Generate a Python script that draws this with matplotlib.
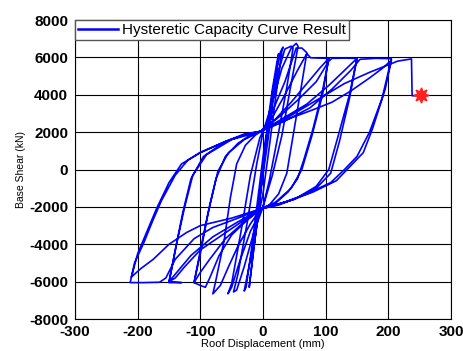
import matplotlib.pyplot as plt

# loading history, one list per displacement level (mm, kN)
c1_x = [0, 6, 12, 16, 10, 2, -4, -10, -14, -8, -2, 3]
c1_y = [0, 1600, 3300, 4300, 2600, 500, -1200, -3000, -4000, -2600, -600, 900]
c2_x = [8, 15, 22, 25, 18, 8, 0, -8, -16, -22, -16, -8, 0, 8]
c2_y = [2600, 4300, 5700, 6200, 4200, 1600, -300, -2300, -4600, -6300, -4600, -2200, 200, 2200]
c3_x = [18, 28, 32, 30, 20, 10, 0, -10, -20, -30, -27, -18, -8, 2, 12]
c3_y = [4700, 6300, 6550, 6300, 3800, 1200, -1300, -2900, -4800, -6500, -6300, -4200, -1500, 1200, 3200]
c4_x = [25, 35, 45, 48, 38, 25, 10, 0, -15, -30, -42, -47, -40, -25, -10, 0, 15, 30]
c4_y = [5300, 6450, 6600, 6500, 4400, 2000, -600, -2000, -3400, -5200, -6450, -6550, -5600, -2800, 300, 2000, 3600, 5400]
c5_x = [45, 53, 56, 45, 30, 15, 0, -20, -38, -50, -56, -50, -35, -20, -5, 10, 35, 53]
c5_y = [6500, 6750, 6600, 4600, 1800, -300, -2000, -3300, -5000, -6300, -6650, -6100, -3300, -300, 1700, 2700, 4700, 6500]
c6_x = [62, 70, 60, 48, 38, 25, 10, -3, -20, -40, -55, -68, -80, -75, -62, -52, -42, -28, -12, -3,
        15, 35, 55, 70]
c6_y = [6500, 6250, 4200, 1800, -200, -1300, -1900, -2100, -2900, -4100, -5200, -6200, -6650, -5900,
        -3800, -1500, 300, 1300, 1850, 2050, 2800, 4000, 5300, 6200]
c7_x = [76, 90, 105, 95, 80, 65, 55, 40, 20, -3, -25, -50, -70, -85, -92, -100, -110, -100, -88, -75,
        -60, -40, -20, -3, 20, 45, 70, 90, 105, 95, 78, 62, 45, 20, -3, -30, -60, -85, -100, -110,
        -98, -85, -72, -55, -30, -3]
c7_y = [5980, 5960, 5950, 4200, 2200, 500, -500, -1200, -1800, -2100, -2700, -3500, -4600, -5800,
        -6300, -6200, -6050, -4500, -2400, -500, 700, 1400, 1850, 2050, 2700, 3600, 4600, 5400, 5950,
        4000, 1800, 0, -1000, -1750, -2100, -2800, -3700, -4800, -5500, -6050, -4000, -1900, -100,
        900, 1600, 2050]
c8_x = [25, 55, 85, 105, 110, 130, 150, 138, 120, 105, 85, 55, 25, -3, -30, -65, -100, -125, -140,
        -150, -130, -150, -140, -128, -115, -95, -60, -30, -3, 30, 70, 105, 130, 150, 138, 122, 108,
        85, 50, -3, -40, -80, -115, -140, -150, -138, -125, -112, -90, -50, -3]
c8_y = [2800, 3700, 4700, 5800, 5950, 5960, 5950, 4000, 1800, 0, -900, -1500, -1900, -2100, -2700,
        -3500, -4300, -5200, -5800, -6000, -6050, -6050, -4300, -2300, -500, 700, 1500, 1900, 2050,
        2700, 3500, 4500, 5300, 5950, 3800, 1500, -200, -1000, -1600, -2100, -2800, -3600, -4600,
        -5600, -6000, -4000, -2000, -300, 800, 1600, 2050]
c9_x = [35, 75, 110, 140, 155, 180, 205, 190, 170, 150, 130, 108, 70, 30, -3, -40, -80, -110, -140,
        -155, -165, -190, -212, -205, -190, -176, -162, -140, -120, -100, -60, -30, -3, 40, 80, 110,
        140, 170, 190, 205, 195, 175, 160, 140, 117, 80, 40, -3, -50, -100, -122, -150, -175, -195,
        -210, -200, -185, -170, -150, -130, -100, -60, -25, -3]
c9_y = [2600, 3300, 4300, 5300, 5900, 5950, 5930, 3800, 2000, 700, 0, -700, -1300, -1800, -2100,
        -2600, -3100, -3700, -4800, -5800, -6030, -6050, -6050, -5000, -3900, -2740, -1660, -300, 500,
        920, 1500, 1850, 2050, 2700, 3200, 3600, 4200, 4900, 5400, 5850, 4300, 2200, 900, 200, -600,
        -1200, -1700, -2100, -2600, -3000, -3370, -4000, -4800, -5300, -5750, -4500, -3300, -2100,
        -700, 300, 900, 1500, 1900, 2050]
final_x = [40, 90, 130, 170, 200, 215, 237, 238, 244]
final_y = [2800, 3800, 4600, 5200, 5600, 5800, 5920, 3950, 3950]

collapse_x = [252]
collapse_y = [4000]

disp = c1_x + c2_x + c3_x + c4_x + c5_x + c6_x + c7_x + c8_x + c9_x + final_x
shear = c1_y + c2_y + c3_y + c4_y + c5_y + c6_y + c7_y + c8_y + c9_y + final_y

plt.rcParams['font.family'] = ['Liberation Sans', 'DejaVu Sans']
plt.rcParams['axes.unicode_minus'] = False
fig = plt.figure(figsize=(4.63, 3.51), dpi=100)
ax = fig.add_axes([0.162, 0.091, 0.812, 0.852])

ax.plot(disp, shear, color='#0000ff', lw=1.2, label='Hysteretic Capacity Curve Result')
ax.plot(collapse_x, collapse_y, ls='none', marker=(8, 1, 0), ms=11, color='#ff2020')

ax.set_xlim(-300, 300)
ax.set_ylim(-8000, 8000)
ax.set_xticks(range(-300, 301, 100))
ax.set_yticks(range(-8000, 8001, 2000))
ax.grid(True, color='black', lw=0.8)
ax.tick_params(axis='x', length=0, pad=4, labelsize=11)
ax.tick_params(axis='y', length=0, pad=5, labelsize=11)
for lab in ax.get_xticklabels() + ax.get_yticklabels():
    lab.set_fontweight('bold')
for s in ax.spines.values():
    s.set_linewidth(0.8)

ax.set_xlabel('Roof Displacement (mm)', fontsize=8, labelpad=0)
ax.set_ylabel('Base Shear (kN)', fontsize=7.5, labelpad=2)

leg = ax.legend(loc='upper left', bbox_to_anchor=(0, 1), borderaxespad=0, fontsize=11,
                fancybox=False, framealpha=1, edgecolor='#555555', handlelength=2.6,
                handletextpad=0.3, borderpad=0.2)
leg.get_frame().set_linewidth(1.0)
leg.get_lines()[0].set_linewidth(1.8)

fig.savefig('out.png', dpi=100)
